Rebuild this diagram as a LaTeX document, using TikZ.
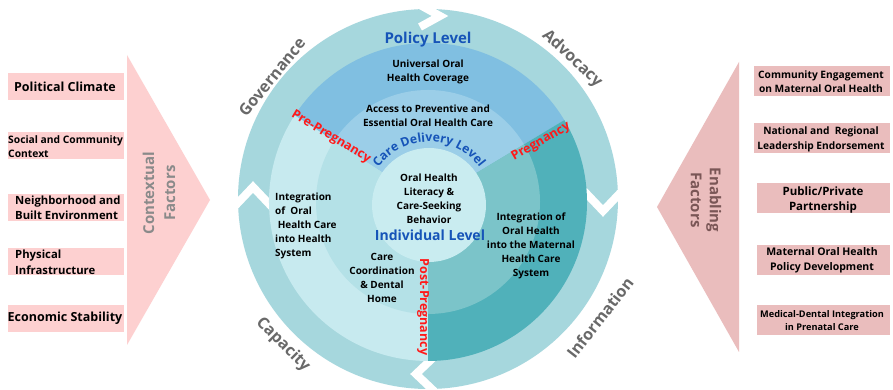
\documentclass[tikz,border=0pt]{standalone}
\usepackage{fontspec}
\setmainfont{Open Sans}
\usetikzlibrary{calc,decorations.text}

\definecolor{ringteal}{RGB}{166,215,221}
\definecolor{polblue}{RGB}{128,191,225}
\definecolor{polbluein}{RGB}{155,206,232}
\definecolor{prelight}{RGB}{199,234,239}
\definecolor{preband}{RGB}{180,225,231}
\definecolor{pregdark}{RGB}{80,177,186}
\definecolor{pregband}{RGB}{123,196,201}
\definecolor{corecirc}{RGB}{201,236,240}
\definecolor{levelblue}{RGB}{22,84,184}
\definecolor{ringgray}{RGB}{105,105,105}
\definecolor{ctxpink}{RGB}{253,208,208}
\definecolor{enbpink}{RGB}{234,189,189}
\definecolor{ctxgray}{RGB}{138,138,138}
\definecolor{enbtext}{RGB}{122,86,86}
\definecolor{phasered}{RGB}{255,25,25}

\newcommand{\fsz}[2]{\fontsize{#1}{#2}\selectfont\bfseries}

\tikzset{
  ctxbox/.style={fill=ctxpink, minimum width=116pt, minimum height=27pt, inner sep=0pt},
  enbbox/.style={fill=enbpink, minimum width=133pt, minimum height=30pt, inner sep=0pt},
  boxtext/.style={inner sep=0pt, align=center},
  ringnotch/.style={draw=white, line width=8pt, miter limit=10},
  ringlabel/.style={text=ringgray, font=\fsz{16}{18}, inner sep=0pt},
  phase/.style={text=phasered, font=\fsz{12.5}{14}, inner sep=0pt},
  levellabel/.style={text=levelblue, inner sep=0pt},
  body/.style={font=\fsz{10}{14}, align=center, inner sep=0pt}
}

\begin{document}
\begin{tikzpicture}[x=1pt,y=1pt]
\useasboundingbox (0,0) rectangle (893,390);
\fill[white] (0,0) rectangle (893,390);

% ---------- contextual factors (left) ----------
\fill[ctxpink] (127,335) -- (210,190) -- (127,45) -- cycle;
\node[rotate=90, align=center, text=ctxgray, font=\fsz{15}{21}, inner sep=0pt]
  (ctxlabel) at (159,197) {Contextual\\Factors};

\node[ctxbox] (c1) at (66,303) {};
\node[ctxbox] (c2) at (66,244.5) {};
\node[ctxbox] (c3) at (66,182.5) {};
\node[ctxbox] (c4) at (66,128.5) {};
\node[ctxbox] (c5) at (66,71.5) {};

\node[boxtext, font=\fsz{12.5}{15}] (c1t) at (65,303) {Political Climate};
\node[inner sep=0pt, anchor=west, align=left, font=\fsz{10.3}{14.5}] (c2t) at (8,243.5) {Social and Community\\Context};
\node[inner sep=0pt, anchor=west, align=left, font=\fsz{11.3}{15}] (c3t) at (15,182.5) {Neighborhood and\\Built Environment};
\node[inner sep=0pt, anchor=west, align=left, font=\fsz{11.3}{16}] (c4t) at (15,128) {Physical\\Infrastructure};
\node[boxtext, font=\fsz{12.5}{15}] (c5t) at (65,72) {Economic Stability};

% ---------- enabling factors (right) ----------
\fill[enbpink] (739,328) -- (657,183) -- (739,38) -- cycle;
\node[rotate=-90, align=center, text=enbtext, font=\fsz{15}{19}, inner sep=0pt]
  (enblabel) at (706,190) {Enabling\\Factors};

\node[enbbox, minimum width=136pt] (e1) at (822,308.5) {};
\node[enbbox, minimum width=136pt] (e2) at (822,252) {};
\node[enbbox] (e3) at (823.5,191.5) {};
\node[enbbox] (e4) at (823.5,129.5) {};
\node[enbbox] (e5) at (823.5,70) {};

\node[boxtext, font=\fsz{10.2}{14}] (e1t) at (821,308) {Community Engagement\\on Maternal Oral Health};
\node[boxtext, font=\fsz{10.2}{15}] (e2t) at (821,250.5) {National and\ \ Regional\\Leadership Endorsement};
\node[boxtext, font=\fsz{11.5}{15}] (e3t) at (823,189.5) {Public/Private\\Partnership};
\node[boxtext, font=\fsz{10.5}{15}] (e4t) at (822,129.5) {Maternal Oral Health\\Policy Development};
\node[boxtext, font=\fsz{9.2}{13}] (e5t) at (822,69.5) {Medical-Dental Integration\\in Prenatal Care};

% ---------- central wheel ----------
\coordinate (C) at (428,191);   % outer arrow ring
\coordinate (D) at (428,188);   % level discs
\coordinate (I) at (429,185);   % individual core

\fill[ringteal] (C) circle[radius=190pt];
% chevron gaps between the four arrow segments
\foreach \a/\rin in {90/172,0/156,-90/156,180/156}{
  \begin{scope}[shift={(C)}, rotate={\a-90}]
    \draw[ringnotch] (-8,\rin) -- (12,{(\rin+194)/2}) -- (-8,194);
  \end{scope}
}

% outer level sectors
\fill[polblue]  (D) -- ++(31:159pt)  arc[start angle=31,  end angle=147, radius=159pt] -- cycle;
\fill[prelight] (D) -- ++(147:159pt) arc[start angle=147, end angle=270, radius=159pt] -- cycle;
\fill[pregdark] (D) -- ++(-90:159pt) arc[start angle=-90, end angle=31,  radius=159pt] -- cycle;
% care delivery band
\fill[polbluein] (D) -- ++(31:112pt)  arc[start angle=31,  end angle=147, radius=112pt] -- cycle;
\fill[preband]   (D) -- ++(147:112pt) arc[start angle=147, end angle=270, radius=112pt] -- cycle;
\fill[pregband]  (D) -- ++(-90:112pt) arc[start angle=-90, end angle=31,  radius=112pt] -- cycle;
% individual core
\fill[corecirc] (I) circle[radius=57pt];

% ring labels
\node[ringlabel, rotate=51]  (gov) at (272,313) {Governance};
\node[ringlabel, rotate=-43] (adv) at (572,331) {Advocacy};
\node[ringlabel, rotate=-45] (cap) at (283,45)  {Capacity};
\node[ringlabel, rotate=52]  (inf) at (600,72)  {Information};

% level titles
\node[levellabel, font=\fsz{15}{18}] (policy) at (428,350) {Policy Level};
\node[levellabel, font=\fsz{14}{17}] (indiv)  at (430,155) {Individual Level};
\path[decoration={text along path, text align=center,
      text={|\fsz{12.3}{14}\color{levelblue}|Care Delivery Level}}, decorate]
  ($(I)+(155:63pt)$) arc[start angle=155, end angle=25, radius=63pt];

% phase labels
\node[phase, rotate=-31] (pre)  at (331,253) {Pre-Pregnancy};
\node[phase, rotate=30]  (preg) at (541,248) {Pregnancy};
\node[phase, rotate=-90] (post) at (423,83)  {Post-Pregnancy};

% body texts
\node[body] (uohc) at (428,318) {Universal Oral\\Health Coverage};
\node[body] (acc)  at (428,274) {Access to Preventive and\\Essential Oral Health Care};
\node[body] (lit)  at (429,191.5) {Oral Health\\Literacy \&\\Care-Seeking\\Behavior};
\node[body, align=left, anchor=west] (ihs) at (275,164) {Integration\\of\ \ Oral\\\ Health Care\\into Health\\System};
\node[body] (ccd)  at (382,112.5) {Care\\Coordination\\\& Dental\\Home};
\node[body] (imh)  at (531,144.5) {Integration of\\Oral Health\\into the Maternal\\Health Care\\System};
\end{tikzpicture}
\end{document}
